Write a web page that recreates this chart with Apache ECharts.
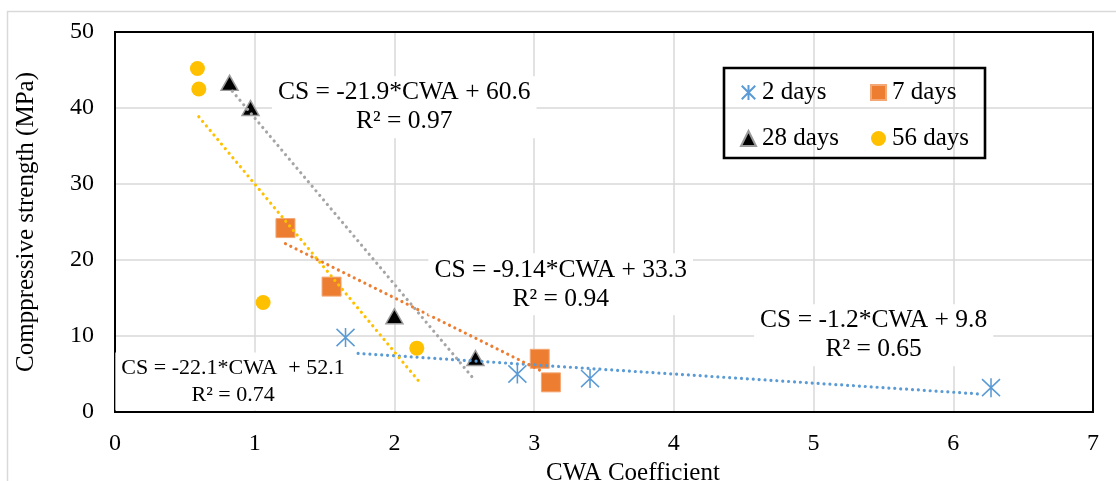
<!DOCTYPE html>
<html>
<head>
<meta charset="utf-8">
<script src="https://cdn.jsdelivr.net/npm/echarts@6/dist/echarts.min.js"></script>
<style>
  html, body { margin: 0; padding: 0; background: #fff; }
  #chart { width: 1116px; height: 481px; }
</style>
</head>
<body>
<div id="chart"></div>
<script>
// Compressive strength vs. CWA coefficient, by curing age
const seriesNames = ['2 days', '7 days', '28 days', '56 days'];

const cwa2d = [1.65, 2.88, 3.40, 6.27];
const cs2d  = [9.8, 5.0, 4.4, 3.2];

const cwa7d = [1.22, 1.55, 3.04, 3.12];
const cs7d  = [24.2, 16.5, 7.0, 3.9];

const cwa28d = [0.82, 0.97, 2.00, 2.58];
const cs28d  = [43.3, 40.0, 12.6, 7.1];

const cwa56d = [0.59, 0.60, 1.06, 2.16];
const cs56d  = [45.2, 42.5, 14.4, 8.4];

// Linear fits: CS = slope * CWA + intercept, drawn over the range below
const fitSlope     = [-1.2, -9.14, -21.9, -22.1];
const fitIntercept = [9.8, 33.3, 60.6, 52.1];
const fitFrom      = [1.74, 1.22, 0.84, 0.60];
const fitTo        = [6.20, 3.05, 2.57, 2.18];
const fitR2        = ['0.65', '0.94', '0.97', '0.74'];
const fitEquation  = ['CS = -1.2*CWA + 9.8', 'CS = -9.14*CWA + 33.3', 'CS = -21.9*CWA + 60.6', 'CS = -22.1*CWA  + 52.1'];
// anchor (CWA, CS) of each equation label
const fitLabelX = [5.43, 3.19, 2.07, 0.845];
const fitLabelY = [10.1, 16.8, 40.1, 4.0];

const xTicks = [0, 1, 2, 3, 4, 5, 6, 7];
const yTicks = [0, 10, 20, 30, 40, 50];

const fitColors = ['#5B9BD5', '#ED7D31', '#A5A5A5', '#FFC000'];
const FONT = 'Liberation Serif';

const pointsX = [cwa2d, cwa7d, cwa28d, cwa56d];
const pointsY = [cs2d, cs7d, cs28d, cs56d];

const markerDefs = [
  { symbol: 'path://M0 0L18 18M18 0L0 18M9 -1L9 19', symbolSize: [18, 19],
    itemStyle: { opacity: 1, color: 'rgba(0,0,0,0)', borderColor: '#5B9BD5', borderWidth: 1.6 } },
  { symbol: 'rect', symbolSize: 19, itemStyle: { opacity: 1, color: '#ED7D31', borderColor: '#F4A875', borderWidth: 1 } },
  { symbol: 'triangle', symbolSize: [17, 15], itemStyle: { opacity: 1, color: '#000', borderColor: '#9a9a9a', borderWidth: 1.5 } },
  { symbol: 'circle', symbolSize: 15, itemStyle: { opacity: 1, color: '#FFC000' } }
];

const series = [];
seriesNames.forEach((name, i) => {
  series.push(Object.assign({
    name: name,
    type: 'scatter',
    z: 2,
    data: pointsX[i].map((x, k) => [x, pointsY[i][k]])
  }, markerDefs[i]));
});

// trend lines
seriesNames.forEach((name, i) => {
  const f = x => fitSlope[i] * x + fitIntercept[i];
  series.push({
    type: 'line',
    z: 3,
    silent: true,
    symbol: 'none',
    data: [[fitFrom[i], f(fitFrom[i])], [fitTo[i], f(fitTo[i])]],
    lineStyle: { color: fitColors[i], width: 3.2, type: [0.01, 5.9], cap: 'round', opacity: 1 }
  });
});

// equation labels (the 56-day one is set a little smaller)
const labelFontSize = [25.5, 25.5, 25.5, 22];
const labelLineHeight = [29, 29, 29, 27];
series.push({
  type: 'scatter',
  z: 5,
  silent: true,
  symbolSize: 0,
  itemStyle: { opacity: 1 },
  data: fitLabelX.map((x, i) => ({
    value: [x, fitLabelY[i]],
    label: {
      formatter: fitEquation[i] + '\nR² = ' + fitR2[i],
      fontSize: labelFontSize[i],
      lineHeight: labelLineHeight[i]
    }
  })),
  label: {
    show: true,
    position: 'inside',
    align: 'center',
    verticalAlign: 'middle',
    fontFamily: FONT,
    color: '#000',
    opacity: 1,
    backgroundColor: '#fff',
    padding: [2, 6, 2, 6]
  }
});

const legendBase = {
  orient: 'vertical',
  top: 80,
  padding: 0,
  itemWidth: 15,
  itemHeight: 15,
  itemGap: 21,
  textStyle: { fontFamily: FONT, fontSize: 25, lineHeight: 24, color: '#000', padding: [0, 0, 0, 1] }
};

const chart = echarts.init(document.getElementById('chart'), null, { renderer: 'canvas' });
chart.setOption({
  animation: false,
  backgroundColor: '#fff',
  grid: {
    left: 115, right: 23, top: 32, bottom: 69,
    outerBoundsMode: 'none',
    containLabel: false,
    show: true, borderColor: '#000', borderWidth: 2, backgroundColor: 'transparent', z: 4
  },
  legend: [
    Object.assign({ left: 740, data: [seriesNames[0], seriesNames[2]] }, legendBase),
    Object.assign({ left: 870, data: [seriesNames[1], seriesNames[3]] }, legendBase)
  ],
  graphic: [
    { type: 'rect', z: -10, shape: { x: 7.5, y: 11.5, width: 1300, height: 700 },
      style: { fill: 'none', stroke: '#d9d9d9', lineWidth: 1.5 } },
    { type: 'rect', z: 100, shape: { x: 724, y: 68, width: 261, height: 90 },
      style: { fill: 'none', stroke: '#000', lineWidth: 2.6 } },
    { type: 'rect', z: 0, shape: { x: 724, y: 68, width: 261, height: 90 },
      style: { fill: '#fff' } }
  ],
  xAxis: {
    type: 'value',
    min: xTicks[0], max: xTicks[xTicks.length - 1], interval: 1,
    name: 'CWA Coefficient',
    nameLocation: 'middle',
    nameGap: 45,
    nameTextStyle: { fontFamily: FONT, fontSize: 25, color: '#000', padding: [0, 0, 0, 58] },
    axisLine: { show: false },
    axisTick: { show: false },
    axisLabel: { fontFamily: FONT, fontSize: 24, color: '#000', margin: 20 },
    splitLine: { show: true, lineStyle: { color: '#d9d9d9', width: 1.5 } }
  },
  yAxis: {
    type: 'value',
    min: yTicks[0], max: yTicks[yTicks.length - 1], interval: 10,
    name: 'Comppressive strength (MPa)',
    nameLocation: 'middle',
    nameGap: 76,
    nameRotate: 90,
    nameTextStyle: { fontFamily: FONT, fontSize: 25, color: '#000' },
    axisLine: { show: false },
    axisTick: { show: false },
    axisLabel: { fontFamily: FONT, fontSize: 24, color: '#000', margin: 21 },
    splitLine: { show: true, lineStyle: { color: '#d9d9d9', width: 1.5 } }
  },
  series: series
});
</script>
</body>
</html>
